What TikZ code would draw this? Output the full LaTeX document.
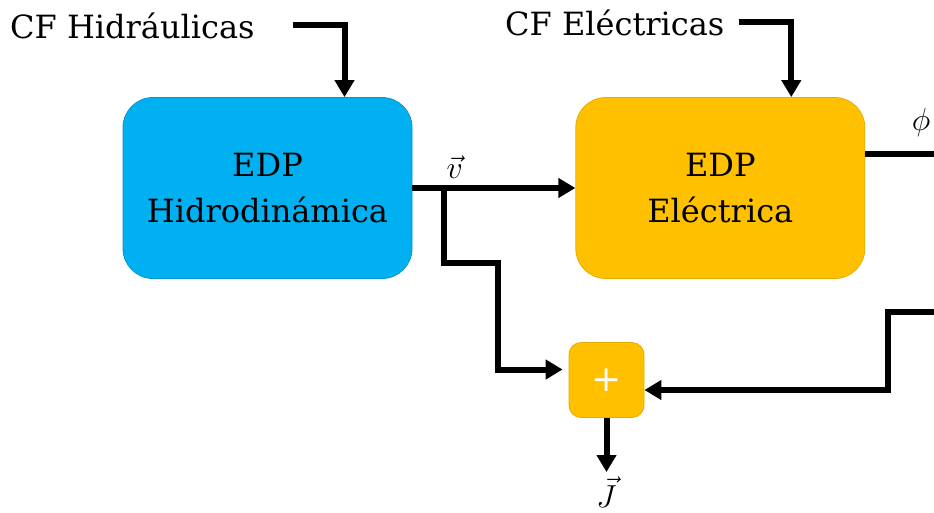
\documentclass[tikz,border=0pt]{standalone}
\usepackage{fontspec}
\setmainfont{DejaVu Serif}
\usepackage{xcolor}
\usepackage{tikz}
\usetikzlibrary{arrows.meta, positioning}

\definecolor{hydroblue}{HTML}{00B0F0}
\definecolor{elecorange}{HTML}{FFC000}

\begin{document}
\begin{tikzpicture}[
  x=1pt, y=-1pt,
  block/.style={draw, line width=0.8pt, rounded corners=30pt, minimum width=289pt, minimum height=181pt, align=center, font=\fontsize{32}{46}\selectfont},
  hydro/.style={block, fill=hydroblue, draw=hydroblue!85!black},
  elec/.style={block, fill=elecorange, draw=elecorange!90!black},
  sumbox/.style={draw=elecorange!90!black, line width=0.8pt, fill=elecorange, rounded corners=12pt, minimum size=75pt, text=white, font=\fontsize{36}{36}\selectfont},
  cf/.style={anchor=base west, inner sep=0pt, font=\fontsize{32}{38}\selectfont},
  sig/.style={font=\fontsize{24.88}{30}\selectfont, scale=1.28, transform shape},
  flow/.style={line width=6pt, -{Triangle[length=17pt, width=19pt]}},
  wire/.style={line width=6pt}
]
  \useasboundingbox (0,0) rectangle (934,512);

  \node[hydro] (hydro) at (267.5,188) {EDP\\Hidrodinámica};
  \node[elec, right=163pt of hydro] (elec) {EDP\\Eléctrica};
  \node[sumbox] (sum) at (606.5,380) {+};

  \node[cf] (cfhydro) at (10,38) {CF Hidráulicas};
  \node[cf] (cfelec) at (505,35) {CF Eléctricas};

  \node[sig] (phi) at (921,123) {$\phi$};
  \node[sig, anchor=north, inner sep=1pt] (jout) at (606.5,475) {$\vec J$};
  \coordinate (phiout) at (940,154);
  \coordinate (rightin) at (940,312);

  \draw[flow] ([xshift=38pt]cfhydro.east) -| ([xshift=77pt]hydro.north);
  \draw[flow] ([xshift=14pt]cfelec.east) -| ([xshift=71pt]elec.north);

  \draw[flow] (hydro.east) -- node[sig, above=1pt, pos=0.26]{$\vec v$} (elec.west);
  \draw[flow, shorten >=6pt] ([xshift=32pt]hydro.east) |- (498,263) |- ([yshift=10.5pt]sum.west);
  \draw[flow] (rightin) -| (888,390) -- ([yshift=-10pt]sum.east);
  \draw[flow, shorten >=3pt] (sum.south) -- (jout.north);

  \draw[wire] (elec.east |- phiout) -- (phiout);
\end{tikzpicture}
\end{document}
